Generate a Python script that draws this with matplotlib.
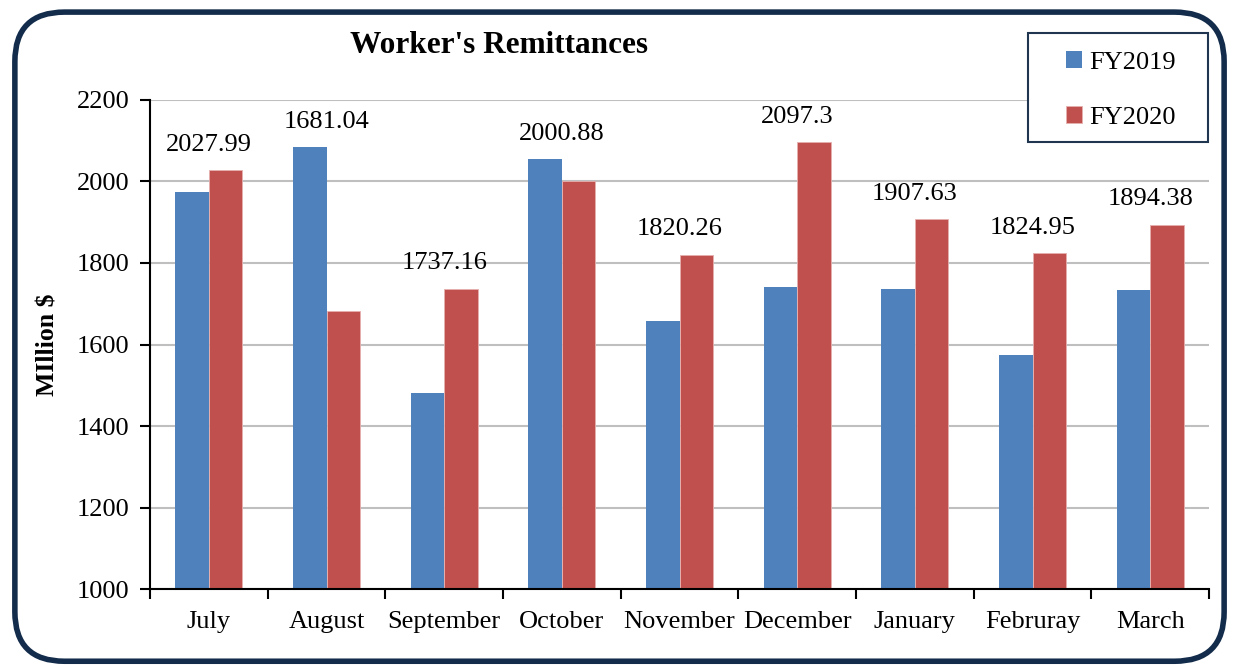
import numpy as np
import matplotlib.pyplot as plt
from matplotlib.patches import FancyBboxPatch, Rectangle

# Datos
months = ['July', 'August', 'September', 'October', 'November', 'December',
          'January', 'Februray', 'March']
fy2019 = [1974, 2085, 1481, 2055, 1658, 1741, 1736, 1574, 1734]
fy2020 = [2027.99, 1681.04, 1737.16, 2000.88, 1820.26, 2097.3, 1907.63,
          1824.95, 1894.38]
labels = ['2027.99', '1681.04', '1737.16', '2000.88', '1820.26', '2097.3',
          '1907.63', '1824.95', '1894.38']

plt.rcParams['font.family'] = ['Liberation Serif', 'DejaVu Serif']

fig = plt.figure(figsize=(12.39, 6.72), dpi=100)
ax = fig.add_axes([0.1211, 0.1235, 0.8547, 0.7277])

x = np.arange(len(months))
w = 1 / 3.5
ax.bar(x - w / 2, fy2019, w, color='#4f81bd', label='FY2019', zorder=3)
ax.bar(x + w / 2, fy2020, w, color='#c0504d', edgecolor='#e6b0ae',
       linewidth=0.6, label='FY2020', zorder=3)

for i in range(len(months)):
    top = max(fy2019[i], fy2020[i])
    ax.text(x[i], top + 62, labels[i], ha='center', va='center', fontsize=19)

ax.set_ylim(1000, 2200)
ax.set_xlim(-0.5, len(months) - 0.5)
ax.set_yticks(range(1000, 2201, 200))
ax.yaxis.grid(True, color='#bfbfbf', lw=1.5, zorder=0)
ax.set_xticks(x)
ax.set_xticklabels(months)
ax.set_xticks(np.arange(-0.5, len(months), 1), minor=True)
ax.tick_params(axis='x', which='major', length=0, pad=16, labelsize=19)
ax.tick_params(axis='x', which='minor', length=7, width=1.5, direction='out')
ax.tick_params(axis='y', length=7, width=1.5, pad=8, labelsize=19)
for s in ['top', 'right']:
    ax.spines[s].set_visible(False)
for s in ['left', 'bottom']:
    ax.spines[s].set_linewidth(1.5)
    ax.spines[s].set_zorder(4)

ax.set_ylabel('MIllion $', fontsize=18.5, fontweight='bold', labelpad=12)
fig.text(0.403, 0.933, "Worker's Remittances", ha='center', va='center',
         fontsize=22.5, fontweight='bold')

# cuadro de la leyenda
W, H = 1239, 672
frame = Rectangle((1028 / W, 1 - 142 / H), 180 / W, 109 / H,
                  transform=fig.transFigure, facecolor='white',
                  edgecolor='#1f3550', linewidth=1.5, zorder=5)
fig.patches.append(frame)
handles, names = ax.get_legend_handles_labels()
leg = fig.legend(handles, names, loc='center', bbox_to_anchor=(1121 / W, 1 - 90 / H),
                 fontsize=19, frameon=False, handlelength=0.6,
                 handleheight=0.6, handletextpad=0.3, labelspacing=1.2,
                 borderpad=0, borderaxespad=0)
leg.set_zorder(10)

border = FancyBboxPatch((0.012, 0.016), 0.976, 0.966,
                        boxstyle='round,pad=0,rounding_size=0.04',
                        transform=fig.transFigure, fill=False,
                        edgecolor='#132c4b', linewidth=4, mutation_aspect=1.84)
fig.patches.append(border)

plt.savefig('out.png', dpi=100)
